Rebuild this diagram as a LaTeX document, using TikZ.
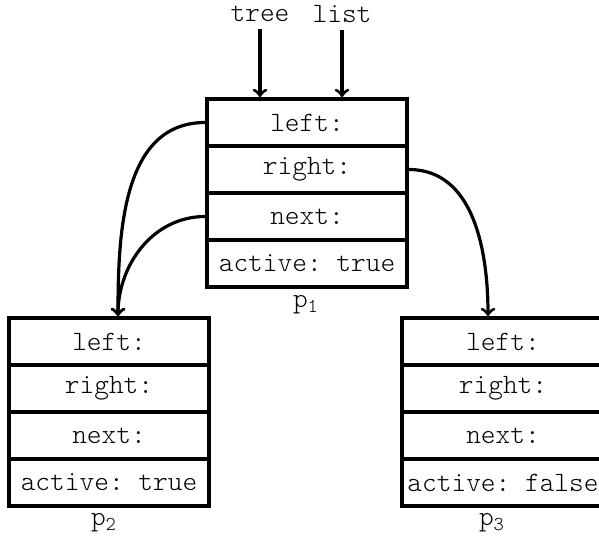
\documentclass[tikz,border=0pt]{standalone}
\usepackage{fontspec}
\setmonofont{Latin Modern Mono Light}
\usetikzlibrary{arrows}

\tikzset{
  field/.style={draw, line width=1.9pt, minimum width=100pt, minimum height=23.5pt,
    inner sep=0pt, font=\ttfamily\fontsize{14}{16}\selectfont},
  plainlabel/.style={draw=none, font=\ttfamily\fontsize{14}{16}\selectfont},
  link/.style={->, line width=1.6pt}
}

\begin{document}
\begin{tikzpicture}[x=0.5pt,y=-0.5pt]
        \useasboundingbox (0,0) rectangle (599,538);

        \node[plainlabel] (tree) at (260,14) {tree};
        \node[plainlabel] (list) at (342,14) {list};

        % record p1
        \node[field] (p1left)   at (307,122.5) {left:};
        \node[field] (p1right)  at (307,169.5) {right:};
        \node[field] (p1next)   at (307,216.5) {next:};
        \node[field] (p1active) at (307,263.5) {active: true};
        \node[plainlabel] (p1)  at (306,305)   {p\textsubscript{1}};

        % record p2
        \node[field] (p2left)   at (109,341.5) {left:};
        \node[field] (p2right)  at (109,388.5) {right:};
        \node[field] (p2next)   at (109,435.5) {next:};
        \node[field] (p2active) at (109,482.5) {active: true};
        \node[plainlabel] (p2)  at (104,523)   {p\textsubscript{2}};

        % record p3
        \node[field, minimum width=101pt] (p3left)   at (503,341.5) {left:};
        \node[field, minimum width=101pt] (p3right)  at (503,388.5) {right:};
        \node[field, minimum width=101pt] (p3next)   at (503,435.5) {next:};
        \node[field, minimum width=101pt] (p3active) at (503,482.5) {active: false};
        \node[plainlabel] (p3)  at (492,523)   {p\textsubscript{3}};

        \draw[link] (tree) -- (tree |- p1left.north);
        \draw[link] (list) -- (list |- p1left.north);
        \draw[link] (p1left.west) to[out=180,in=90] ([xshift=4.5pt]p2left.north);
        \draw[link] (p1next.west) to[out=180,in=90] ([xshift=4.5pt]p2left.north);
        \draw[link] (p1right.east) to[out=0,in=90] ([xshift=-7.5pt]p3left.north);
    \end{tikzpicture}
\end{document}
